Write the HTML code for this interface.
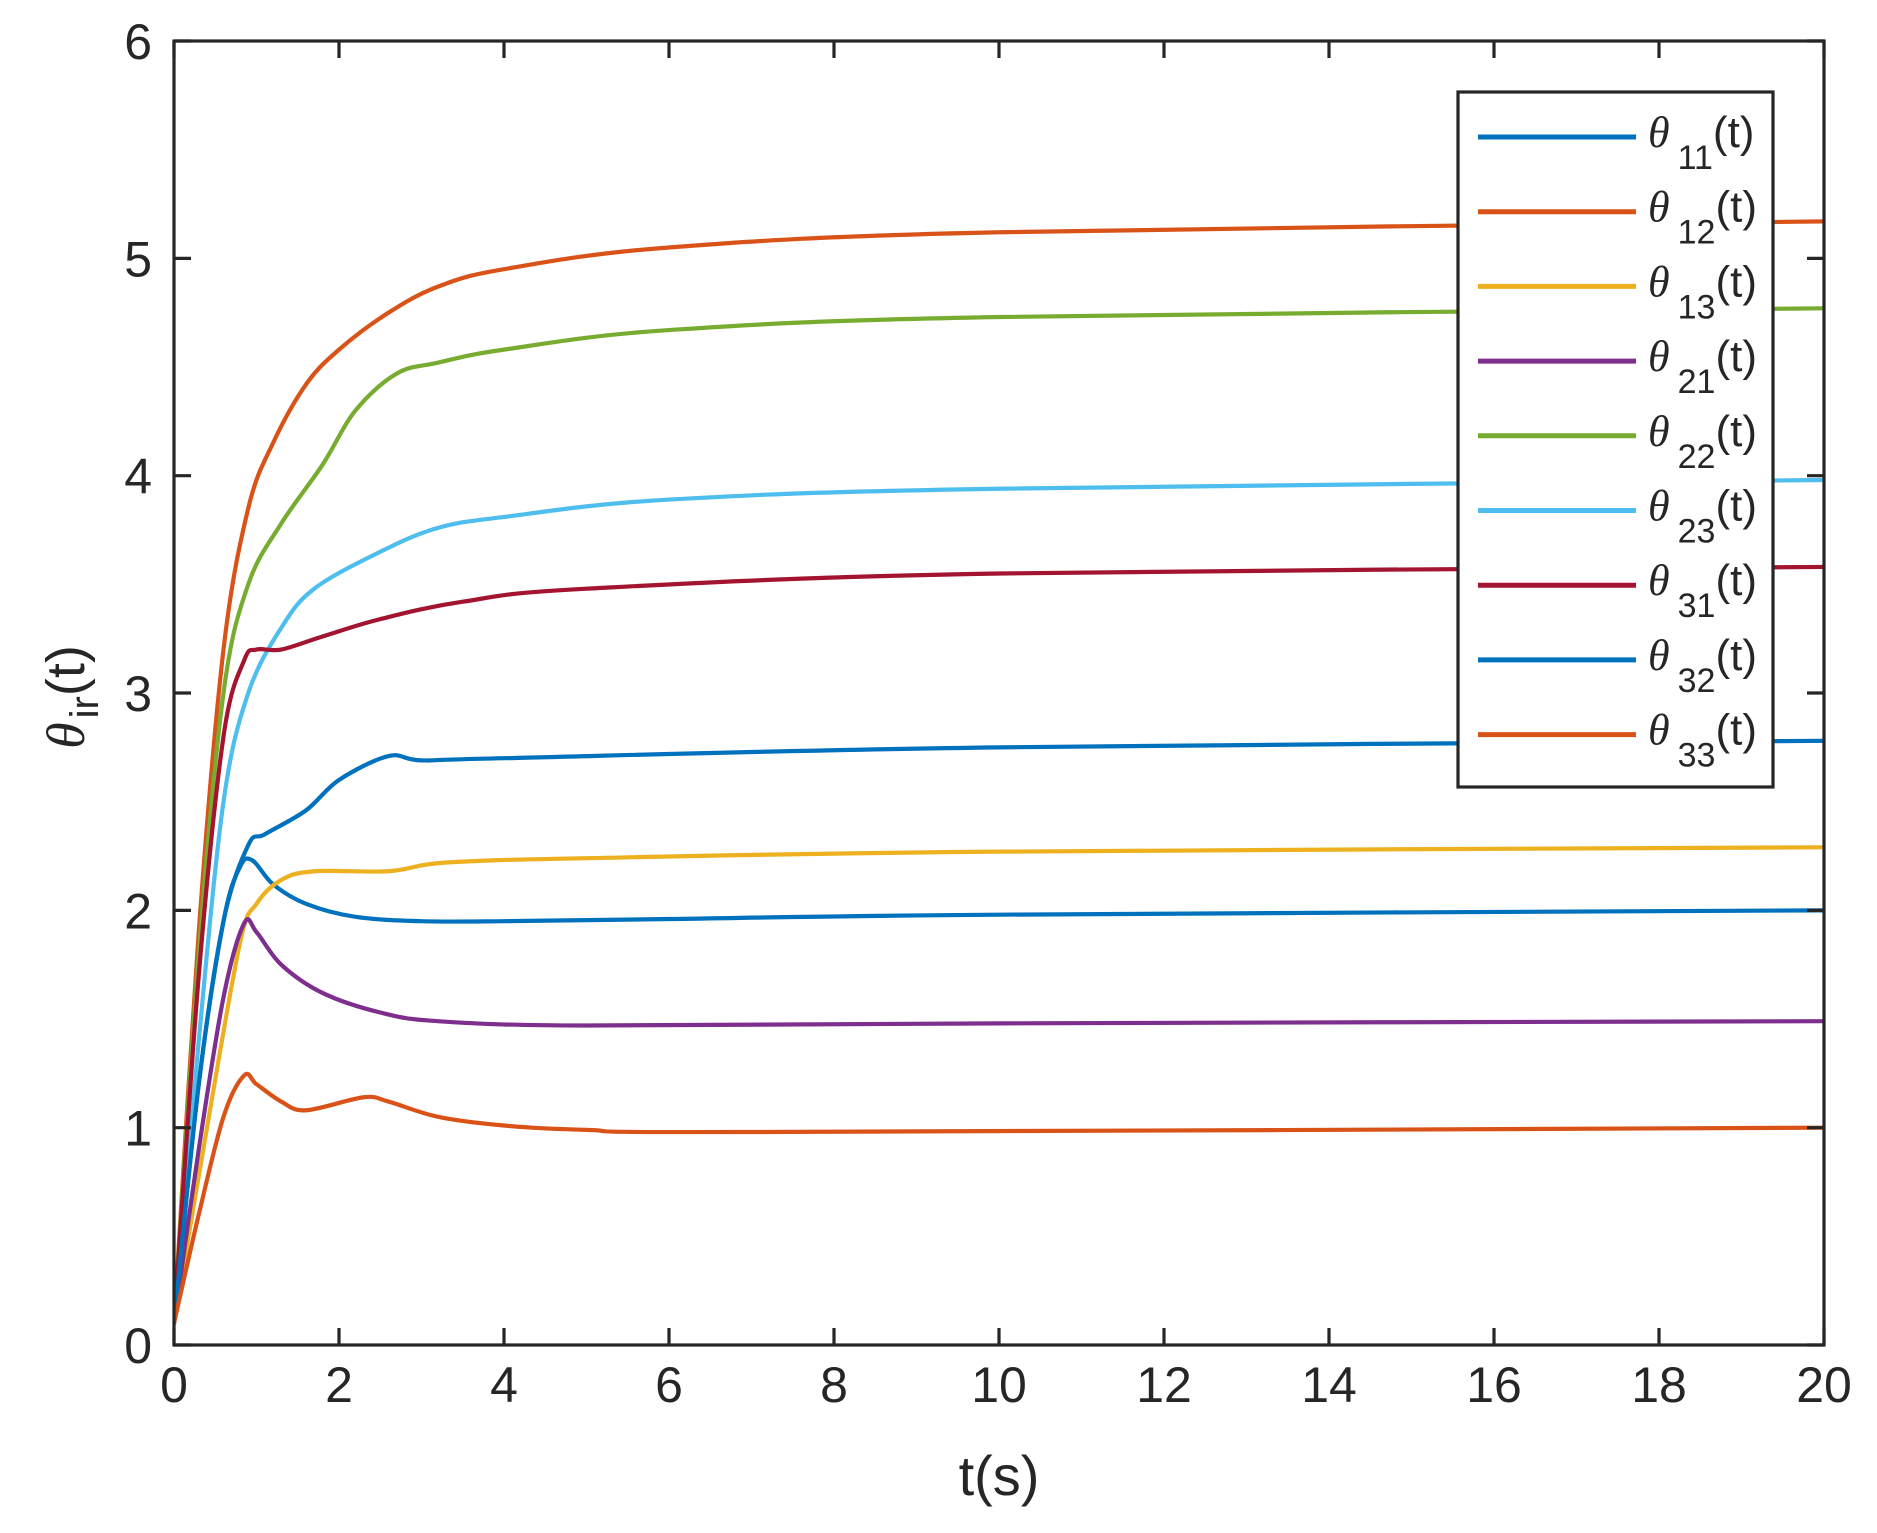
<!DOCTYPE html>
<html><head><meta charset="utf-8"><style>
html,body{margin:0;padding:0;background:#fff}
svg text{font-family:"Liberation Sans",sans-serif;fill:#262626}
</style></head><body>
<svg id="s" width="1877" height="1528" viewBox="0 0 1877 1528" xmlns="http://www.w3.org/2000/svg">
<defs><clipPath id="c"><rect x="174" y="41" width="1650" height="1304"/></clipPath></defs>
<rect width="1877" height="1528" fill="#fff"/>
<g id="curves" clip-path="url(#c)" fill="none" stroke-width="4.2" stroke-linejoin="round" stroke-linecap="round"></g>
<g id="axes" stroke="#262626" stroke-width="3.2" fill="none"></g>
<g id="labels" font-size="50"></g>
<text x="999" y="1495" font-size="56" text-anchor="middle">t(s)</text>
<g transform="translate(84,697) rotate(-90)">
<text x="0" y="0" text-anchor="middle" font-size="54"><tspan font-family="Liberation Serif" font-style="italic">θ</tspan><tspan font-size="40" dy="14" dx="4">ir</tspan><tspan dy="-14">(t)</tspan></text>
</g>
<rect x="1458" y="92" width="315" height="695" fill="#fff" stroke="#262626" stroke-width="3.2"/>
<g id="legend"></g>
</svg>
<script>
const X=t=>174+82.5*t, Y=v=>1345-217.33*v;
const C=["#0072BD","#D95319","#EDB120","#7E2F8E","#77AC30","#4DBEEE","#A2142F","#0072BD","#D95319"];
const D=[
[[0,0.1],[0.3,1.2],[0.6,1.95],[0.8,2.2],[0.95,2.23],[1.2,2.12],[1.6,2.03],[2.2,1.97],[3,1.95],[4,1.95],[6,1.96],[10,1.98],[20,2.0]],
[[0,0.1],[0.3,1.9],[0.6,3.2],[0.9,3.85],[1.2,4.15],[1.6,4.42],[2,4.58],[2.6,4.75],[3.2,4.87],[4,4.95],[6,5.05],[10,5.12],[20,5.17]],
[[0,0.1],[0.4,1.0],[0.8,1.85],[1.0,2.03],[1.3,2.14],[1.7,2.18],[2.6,2.18],[3.3,2.22],[5,2.24],[10,2.27],[20,2.29]],
[[0,0.1],[0.3,0.9],[0.6,1.6],[0.85,1.94],[1.0,1.9],[1.3,1.75],[1.8,1.62],[2.5,1.53],[3.2,1.49],[5,1.47],[10,1.48],[20,1.49]],
[[0,0.1],[0.3,1.8],[0.6,3.0],[0.9,3.5],[1.3,3.78],[1.8,4.05],[2.2,4.3],[2.7,4.47],[3.2,4.52],[4,4.58],[6,4.67],[10,4.73],[20,4.77]],
[[0,0.1],[0.3,1.4],[0.6,2.5],[0.9,3.0],[1.3,3.3],[1.7,3.48],[2.5,3.65],[3.2,3.76],[4,3.81],[6,3.89],[10,3.94],[20,3.98]],
[[0,0.1],[0.3,1.7],[0.6,2.8],[0.85,3.15],[1.0,3.2],[1.3,3.2],[1.8,3.26],[2.5,3.34],[3.5,3.42],[5,3.48],[10,3.55],[20,3.58]],
[[0,0.1],[0.3,1.2],[0.6,1.95],[0.9,2.3],[1.1,2.35],[1.6,2.46],[2.0,2.6],[2.6,2.71],[3.0,2.69],[4,2.7],[10,2.75],[20,2.78]],
[[0,0.1],[0.3,0.6],[0.6,1.05],[0.85,1.24],[1.0,1.2],[1.3,1.12],[1.6,1.08],[2.3,1.14],[2.6,1.12],[3.2,1.05],[4,1.01],[5,0.99],[7,0.98],[20,1.0]]];
const NS="http://www.w3.org/2000/svg";
function el(tag,attrs,parent,text){const e=document.createElementNS(NS,tag);for(const k in attrs)e.setAttribute(k,attrs[k]);if(text!==undefined)e.textContent=text;parent.appendChild(e);return e;}
const cg=document.getElementById("curves");
D.forEach((d,i)=>{
 const p=d.map(q=>[X(q[0]),Y(q[1])]);
 let s="M"+p[0][0]+","+p[0][1];
 for(let k=0;k<p.length-1;k++){
  const p0=p[Math.max(0,k-1)],p1=p[k],p2=p[k+1],p3=p[Math.min(p.length-1,k+2)];
  const c1=[p1[0]+(p2[0]-p0[0])/6,p1[1]+(p2[1]-p0[1])/6];
  const c2=[p2[0]-(p3[0]-p1[0])/6,p2[1]-(p3[1]-p1[1])/6];
  s+=" C"+c1+" "+c2+" "+p2;
 }
 el("path",{d:s,stroke:C[i]},cg);
});
const ax=document.getElementById("axes"), lb=document.getElementById("labels");
el("rect",{x:174,y:41,width:1650,height:1304},ax);
for(let t=0;t<=20;t+=2){const x=X(t);
 el("line",{x1:x,y1:1345,x2:x,y2:1328},ax);el("line",{x1:x,y1:41,x2:x,y2:58},ax);
 el("text",{x:x,y:1402,"text-anchor":"middle"},lb,String(t));}
for(let v=0;v<=6;v++){const y=Y(v);
 el("line",{x1:174,y1:y,x2:191,y2:y},ax);el("line",{x1:1824,y1:y,x2:1807,y2:y},ax);
 el("text",{x:152,y:y+18,"text-anchor":"end"},lb,String(v));}
const lg=document.getElementById("legend");
const names=["11","12","13","21","22","23","31","32","33"];
names.forEach((n,i)=>{const y=137+74.7*i;
 el("line",{x1:1478,y1:y,x2:1636,y2:y,stroke:C[i],"stroke-width":"5"},lg);
 const t=el("text",{x:1648,y:y+10,"font-size":"44"},lg);
 el("tspan",{"font-family":"Liberation Serif","font-style":"italic"},t,"θ");
 el("tspan",{"font-size":"34",dy:"22",dx:"8"},t,n);
 el("tspan",{dy:"-22"},t,"(t)");
});
</script>
</body></html>
